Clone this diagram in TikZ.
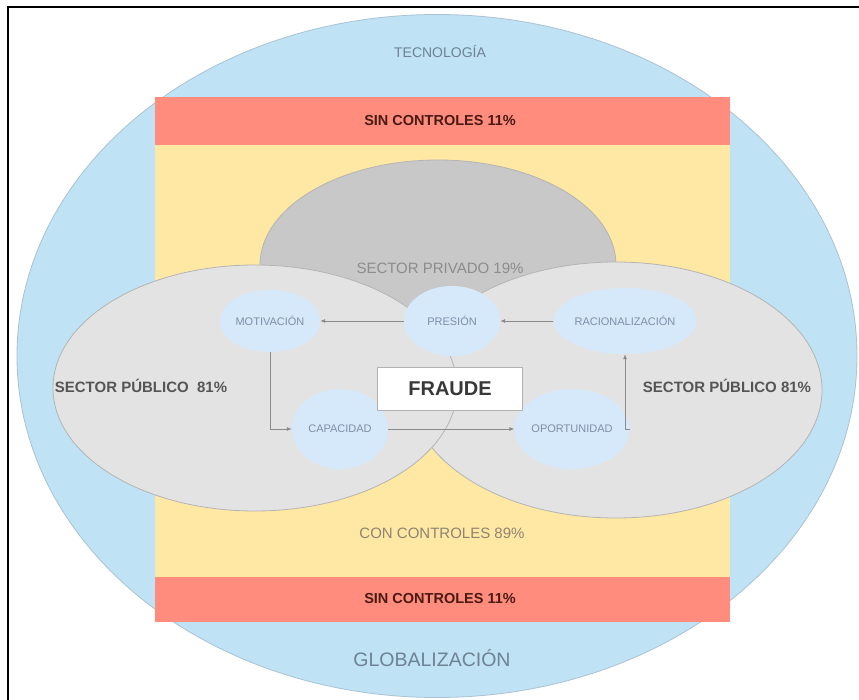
\documentclass[tikz,border=0pt]{standalone}
\usepackage{fontspec}
\setmainfont{Liberation Sans}
\usetikzlibrary{arrows.meta,shapes.geometric}
\definecolor{skyb}{HTML}{BFE2F5}
\definecolor{skyline}{HTML}{A9C3D3}
\definecolor{sand}{HTML}{FFE8A3}
\definecolor{salmon}{HTML}{FF8C7C}
\definecolor{privg}{HTML}{C8C8C8}
\definecolor{pubg}{HTML}{E3E3E3}
\definecolor{publine}{HTML}{B4B4B4}
\definecolor{bubble}{HTML}{D6E9FB}
\definecolor{techtxt}{HTML}{6E8294}
\definecolor{bubtxt}{HTML}{7D8FA6}
\definecolor{sintxt}{HTML}{4A1A14}
\definecolor{pubtxt}{HTML}{555555}
\definecolor{privtxt}{HTML}{8C8C8C}
\definecolor{contxt}{HTML}{8E8470}
\definecolor{arrg}{HTML}{8A8A8A}
\tikzset{
  bigell/.style={ellipse, inner sep=0pt, draw=publine, line width=0.8pt},
  band/.style={rectangle, inner sep=0pt, minimum width=575pt},
  bub/.style={ellipse, inner sep=0pt, fill=bubble, font=\fontsize{11}{13}\selectfont, text=bubtxt},
  arr/.style={draw=arrg, line width=0.8pt, -{Latex[length=5pt,width=4pt]}},
  lbl/.style={inner sep=0pt}
}
\begin{document}
\begin{tikzpicture}[x=1pt,y=-1pt]
\useasboundingbox (0,0) rectangle (859,700);
\fill[white] (0,0) rectangle (859,700);
\draw[black, line width=1.5pt] (8,700) -- (8,7) -- (859,7);
% outer ellipse
\node[bigell, draw=skyline, fill=skyb, minimum width=840pt, minimum height=683pt] (outer) at (437,356) {};
% rectangle and bands
\node[band, fill=sand, minimum height=525pt] (box) at (442.5,359.5) {};
\node[band, fill=salmon, minimum height=48pt] (topband) at (442.5,121) {};
\node[band, fill=salmon, minimum height=45pt] (botband) at (442.5,599.5) {};
% sectors
\node[bigell, fill=privg, minimum width=356pt, minimum height=210pt] (priv) at (438,265) {};
\node[bigell, fill=pubg, minimum width=412pt, minimum height=256pt] (pubr) at (616,390) {};
\node[bigell, fill=pubg, minimum width=404pt, minimum height=246pt] (publ) at (255,388) {};
% bubbles
\node[bub, minimum width=100pt, minimum height=62pt] (mot) at (270,321) {MOTIVACIÓN};
\node[bub, minimum width=96pt, minimum height=70pt] (pres) at (452,321) {PRESIÓN};
\node[bub, minimum width=110pt, minimum height=66pt] (rac) at (625,321) {RACIONALIZACIÓN};
\node[bub, minimum width=96pt, minimum height=80pt] (cap) at (340,429) {CAPACIDAD};
\node[bub, minimum width=92pt, minimum height=80pt] (opo) at (572,429) {OPORTUNIDAD};
% arrows
\draw[arr] (pres.west) -- (mot.east);
\draw[arr] (rac.west) -- (pres.east);
\draw[arr] (mot.south) |- (cap.west);
\draw[arr] (cap.east) -- (opo.west);
\draw[arr] (opo.east) -| (rac.south);
% fraude
\node[rectangle, fill=white, draw=gray!60, line width=0.8pt, minimum width=145pt, minimum height=43pt, font=\bfseries\fontsize{20}{24}\selectfont, text=black!78] (fraude) at (450,389) {FRAUDE};
% labels
\node[lbl, font=\fontsize{14}{16}\selectfont, text=techtxt] (tec) at (440,52) {TECNOLOGÍA};
\node[lbl, font=\fontsize{19.5}{22}\selectfont, text=techtxt] (glo) at (432,658) {GLOBALIZACIÓN};
\node[lbl, font=\bfseries\fontsize{14.5}{17}\selectfont, text=sintxt] (sintop) at (440,121) {SIN CONTROLES 11\%};
\node[lbl, font=\bfseries\fontsize{14.5}{17}\selectfont, text=sintxt] (sinbot) at (440,599) {SIN CONTROLES 11\%};
\node[lbl, font=\fontsize{15}{17}\selectfont, text=privtxt] (privlbl) at (440,268) {SECTOR PRIVADO 19\%};
\node[lbl, font=\bfseries\fontsize{15}{17}\selectfont, text=pubtxt] (publlbl) at (141,386) {SECTOR PÚBLICO\ \ 81\%};
\node[lbl, font=\bfseries\fontsize{15}{17}\selectfont, text=pubtxt] (pubrlbl) at (727,386) {SECTOR PÚBLICO 81\%};
\node[lbl, font=\fontsize{15}{17}\selectfont, text=contxt] (con) at (442,533) {CON CONTROLES 89\%};
\end{tikzpicture}
\end{document}
